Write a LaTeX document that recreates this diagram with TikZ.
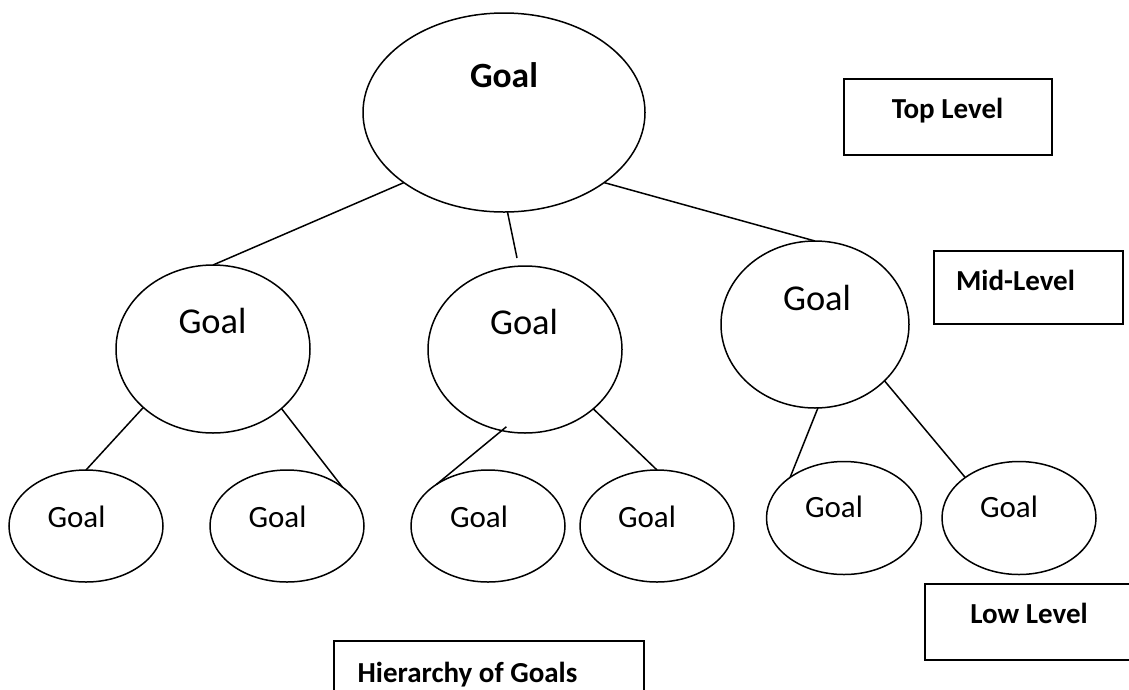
\documentclass[tikz,border=0pt]{standalone}
\usepackage{fontspec}
\setmainfont{Carlito}
\usetikzlibrary{shapes.geometric}
\begin{document}
\begin{tikzpicture}[x=1pt,y=-1pt,
  goal/.style={draw, ellipse, line width=1.5pt, inner sep=0pt, outer sep=0pt},
  topgoal/.style={goal, minimum width=282pt, minimum height=199pt},
  midgoal/.style={goal, minimum width=194pt, minimum height=168pt},
  lowgoal/.style={goal, minimum width=154pt, minimum height=112pt},
  conn/.style={line width=1.5pt},
  lvlbox/.style={draw, rectangle, line width=2.2pt, inner sep=0pt, outer sep=0pt},
  toptxt/.style={anchor=base, inner sep=0pt, font=\fontsize{35.5}{40}\selectfont\bfseries},
  midtxt/.style={anchor=base, inner sep=0pt, font=\fontsize{36.4}{42}\selectfont},
  lowtxt/.style={anchor=base, inner sep=0pt, font=\fontsize{31}{36}\selectfont},
  boxtxt/.style={anchor=base, inner sep=0pt, font=\fontsize{29}{34}\selectfont\bfseries}]
\useasboundingbox (0,0) rectangle (1129,689);
\clip (0,0) rectangle (1129,689);

% ellipses
\node[topgoal] (g0) at (504,112.5) {};
\node[midgoal] (m1) at (213,349) {};
\node[midgoal, minimum height=167pt] (m2) at (525,349.5) {};
\node[midgoal, minimum width=188pt, minimum height=167pt] (m3) at (815,324.5) {};
\node[lowgoal] (l1) at (86,526) {};
\node[lowgoal] (l2) at (287,526) {};
\node[lowgoal] (l3) at (488,526) {};
\node[lowgoal] (l4) at (657,526) {};
\node[lowgoal, minimum width=155pt, minimum height=113pt] (l5) at (844,518) {};
\node[lowgoal, minimum height=113pt] (l6) at (1019,518) {};

% texts
\node[toptxt] (t0) at (504,87) {Goal};
\node[midtxt] (t1) at (212.5,333) {Goal};
\node[midtxt] (t2) at (524,334) {Goal};
\node[midtxt] (t3) at (817,310) {Goal};
\node[lowtxt] (t4) at (76.5,527) {Goal};
\node[lowtxt] (t5) at (277.5,527) {Goal};
\node[lowtxt] (t6) at (479,527) {Goal};
\node[lowtxt] (t7) at (647,527) {Goal};
\node[lowtxt] (t8) at (834,517) {Goal};
\node[lowtxt] (t9) at (1009,517) {Goal};

% connectors
\coordinate (mfree) at (517,258);
\draw[conn] (g0.215) -- (m1.north);
\draw[conn] (g0.272) -- (mfree);
\draw[conn] (g0.325) -- (m3.north);
\draw[conn] (m1.220) -- (l1.north);
\draw[conn] (m1.319) -- (l2.35);
\draw[conn, shorten <=-6pt] (m2.254) -- (l3.141);
\draw[conn] (m2.319) -- (l4.north);
\draw[conn] (m3.272) -- (l5.143);
\draw[conn] (m3.321) -- (l6.143);

% level boxes
\node[lvlbox, minimum width=208pt, minimum height=76pt] (btop) at (948,117) {};
\node[lvlbox, minimum width=189pt, minimum height=73pt] (bmid) at (1028.5,287.5) {};
\node[lvlbox, minimum width=215pt, minimum height=76pt] (blow) at (1032.5,622) {};
\node[lvlbox, minimum width=310pt, minimum height=69pt] (bhier) at (489,675.5) {};
\node[boxtxt] (ttop) at (947.5,118) {Top Level};
\node[boxtxt] (tmid) at (1015.5,290) {Mid-Level};
\node[boxtxt] (tlow) at (1029,623) {Low Level};
\node[boxtxt] (thier) at (467.5,682) {Hierarchy of Goals};
\end{tikzpicture}
\end{document}
